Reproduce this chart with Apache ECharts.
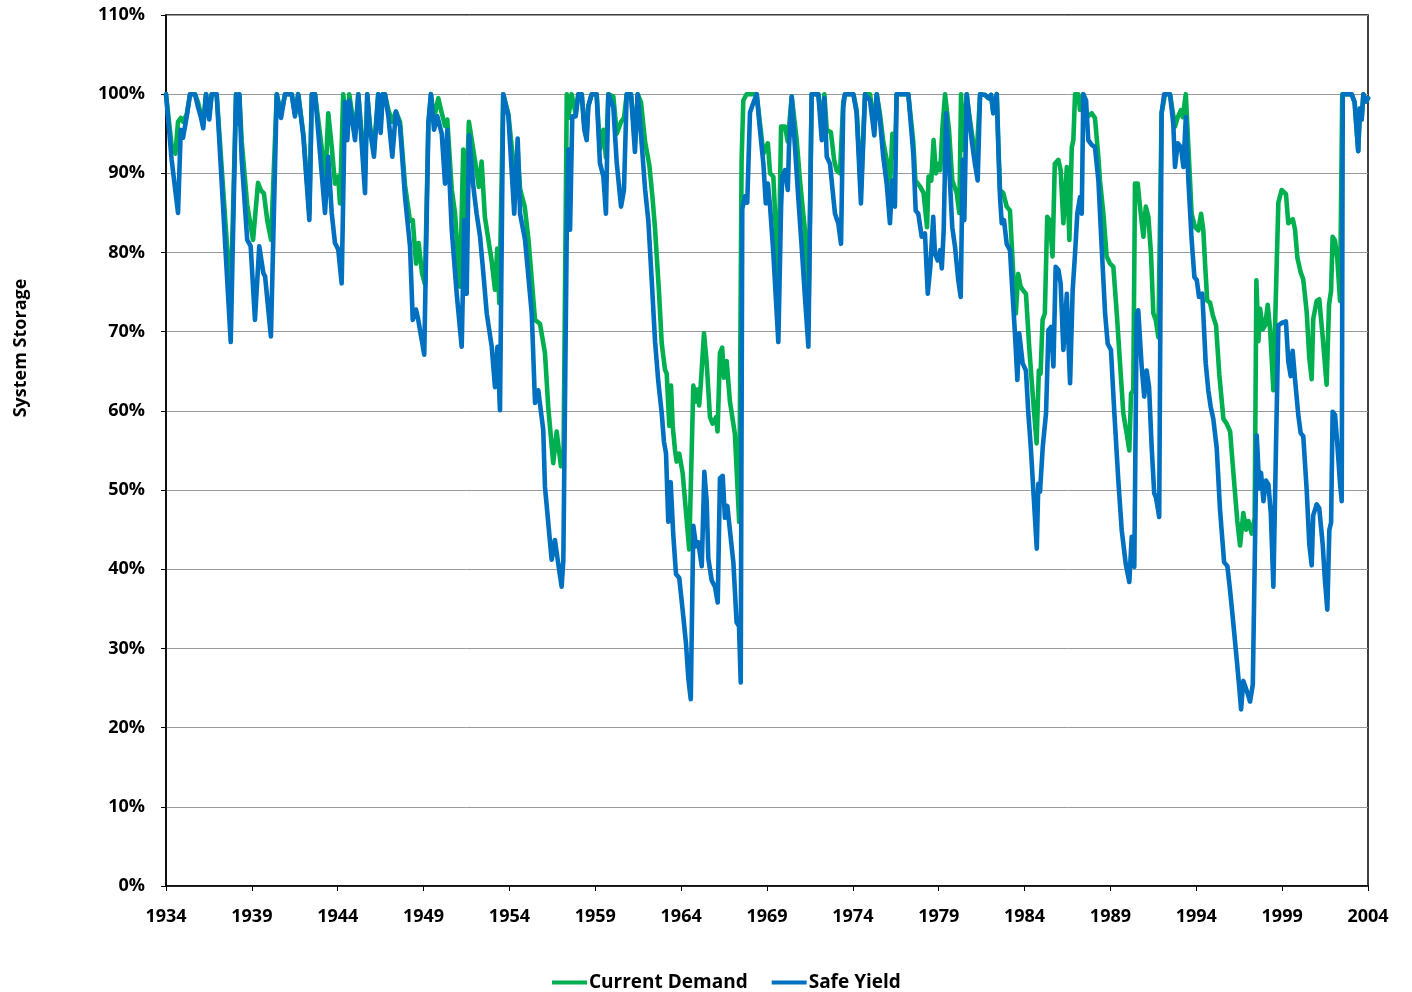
<!DOCTYPE html>
<html>
<head>
<meta charset="utf-8">
<title>System Storage</title>
<script src="https://cdn.jsdelivr.net/npm/echarts@6/dist/echarts.min.js"></script>
<style>
  html, body { margin: 0; padding: 0; background: #fff; }
  #chart { width: 1412px; height: 992px; }
</style>
</head>
<body>
<div id="chart"></div>
<script>
// [decimal year, storage %]
const currentDemand = [
  [1934.00,100],[1934.15,97],[1934.33,93.5],[1934.55,92.5],[1934.70,96.5],[1934.86,97],[1935.00,96.5],[1935.21,97.5],
  [1935.40,100],[1935.69,100],[1935.86,99],[1936.02,97.5],[1936.17,96.5],[1936.33,100],[1936.52,97.5],[1936.66,100],
  [1936.95,100],[1937.77,74],[1938.08,100],[1938.15,97],[1938.27,100],[1938.41,94],[1938.73,86],[1939.07,81.6],
  [1939.36,88.8],[1939.54,87.8],[1939.70,87.5],[1939.90,84],[1940.12,81.6],[1940.45,100],[1940.70,97.5],[1940.93,100],
  [1941.32,100],[1941.51,97.5],[1941.70,100],[1942.00,95],[1942.35,85],[1942.49,100],[1942.68,100],[1943.06,93.4],
  [1943.26,88],[1943.45,97.6],[1943.65,93.4],[1943.84,88.7],[1944.03,89.6],[1944.13,86.2],[1944.32,100],[1944.56,95],
  [1944.67,100],[1945.01,95],[1945.20,100],[1945.30,100],[1945.59,90],[1945.72,100],[1945.88,96],[1946.11,93],
  [1946.36,100],[1946.50,96],[1946.62,100],[1946.75,100],[1946.95,98],[1947.18,96.5],[1947.39,97.8],[1947.63,96.5],
  [1947.92,88.5],[1948.21,84],[1948.37,84.1],[1948.56,78.6],[1948.71,81.2],[1948.91,77.4],[1949.08,76],[1949.28,96.3],
  [1949.43,100],[1949.61,97],[1949.86,99.5],[1950.06,97.6],[1950.25,96],[1950.38,96.8],[1950.64,88],[1950.83,85],
  [1951.12,75.7],[1951.31,93],[1951.45,84.5],[1951.64,96.5],[1951.99,91.7],[1952.22,88.3],[1952.38,91.5],[1952.57,84.5],
  [1952.96,79],[1953.16,75.3],[1953.29,80.5],[1953.41,73.6],[1953.64,100],[1953.94,97.5],[1954.03,95.5],[1954.32,89.4],
  [1954.48,93],[1954.62,88],[1954.89,85.8],[1955.11,81.6],[1955.49,71.5],[1955.78,71],[1956.07,67.3],[1956.26,60.5],
  [1956.55,53.4],[1956.75,57.4],[1957.00,53],[1957.15,54],[1957.34,100],[1957.43,97],[1957.62,100],[1957.86,97.5],
  [1958.01,100],[1958.21,100],[1958.36,96],[1958.50,95],[1958.59,98.5],[1958.79,100],[1959.08,100],[1959.27,93],
  [1959.47,95.5],[1959.62,92],[1959.76,100],[1960.05,99.7],[1960.25,95],[1960.50,96.5],[1960.67,97],[1960.83,100],
  [1961.08,100],[1961.31,94],[1961.47,100],[1961.66,99],[1961.90,94],[1962.15,91],[1962.33,87],[1962.48,83],
  [1962.71,75],[1962.87,68.5],[1963.06,65.2],[1963.16,64.7],[1963.31,58.1],[1963.41,63.2],[1963.51,58.1],[1963.64,55.1],
  [1963.74,53.6],[1963.89,54.6],[1964.09,52.1],[1964.47,42.5],[1964.71,63.2],[1964.86,61.2],[1964.94,62.7],[1965.05,60.7],
  [1965.14,63.2],[1965.33,69.8],[1965.48,66.3],[1965.68,59.2],[1965.83,58.4],[1966.03,59.2],[1966.12,57.4],[1966.26,67.3],
  [1966.39,68],[1966.49,64.2],[1966.65,66.3],[1966.84,61.2],[1967.13,57.1],[1967.38,46],[1967.52,91.6],[1967.62,99.2],
  [1967.81,100],[1968.40,100],[1968.79,92.5],[1969.05,93.8],[1969.18,90],[1969.37,89.6],[1969.66,76],[1969.82,95.9],
  [1970.05,95.9],[1970.21,94],[1970.44,99.7],[1970.73,94.2],[1970.92,89.1],[1971.21,82.8],[1971.41,71],[1971.60,100],
  [1971.99,100],[1972.19,96],[1972.34,100],[1972.48,95.5],[1972.72,95.2],[1972.91,91.7],[1973.05,90.4],[1973.25,90],
  [1973.44,99],[1973.54,100],[1974.03,100],[1974.22,98],[1974.47,88],[1974.71,100],[1975.00,100],[1975.25,96],
  [1975.39,100],[1975.58,97.5],[1975.77,94],[1975.97,91.7],[1976.16,88],[1976.30,95],[1976.45,92],[1976.55,100],
  [1977.23,100],[1977.52,94],[1977.64,89.1],[1977.93,88.3],[1978.12,87.5],[1978.32,83.2],[1978.41,89.6],[1978.57,89.1],
  [1978.70,94.2],[1978.84,90],[1978.96,91.2],[1979.09,90.4],[1979.22,95.9],[1979.37,100],[1979.60,95.5],[1979.79,89.1],
  [1980.05,87.5],[1980.20,85],[1980.30,100],[1980.42,93],[1980.63,100],[1980.76,97.6],[1981.05,93.3],[1981.20,92],
  [1981.41,100],[1981.70,99.9],[1981.89,99.5],[1982.05,99.9],[1982.18,97.6],[1982.38,100],[1982.47,94],[1982.57,87.9],
  [1982.76,87.5],[1982.96,85.8],[1983.15,85.3],[1983.34,77.3],[1983.49,72.3],[1983.63,77.3],[1983.77,75.7],[1983.92,75.2],
  [1984.08,74.8],[1984.27,68.1],[1984.41,63.9],[1984.56,59.7],[1984.70,55.9],[1984.83,65.1],[1984.93,64.7],[1985.05,71.5],
  [1985.18,72.3],[1985.32,84.5],[1985.47,84.1],[1985.63,79.5],[1985.76,91.2],[1985.97,91.7],[1986.10,90.4],[1986.26,83.7],
  [1986.46,90.8],[1986.61,81.6],[1986.75,93.3],[1986.84,94.2],[1986.94,100],[1987.13,100],[1987.23,98],[1987.42,100],
  [1987.62,97.1],[1987.91,97.6],[1988.10,97],[1988.30,92],[1988.39,89.1],[1988.59,84.9],[1988.78,79.5],[1988.98,78.6],
  [1989.17,78.2],[1989.37,72.3],[1989.56,66],[1989.75,59.7],[1989.95,57.1],[1990.10,55],[1990.20,62.2],[1990.33,62.6],
  [1990.43,88.7],[1990.59,88.7],[1990.72,85.8],[1990.92,82],[1991.06,85.8],[1991.21,84.5],[1991.36,79.9],[1991.50,72.3],
  [1991.64,71.5],[1991.79,69.3],[1991.98,97.6],[1992.18,100],[1992.47,100],[1992.76,95.9],[1992.92,97.1],[1993.11,98],
  [1993.21,97.1],[1993.39,100],[1993.54,93.3],[1993.73,84.9],[1993.93,83.2],[1994.12,82.8],[1994.28,84.9],[1994.41,82.8],
  [1994.51,78.6],[1994.64,73.9],[1994.80,73.7],[1994.96,72.1],[1995.15,70.8],[1995.34,64.6],[1995.58,59],[1995.77,58.4],
  [1995.97,57.4],[1996.16,52.2],[1996.39,46.1],[1996.55,43],[1996.74,47.1],[1996.90,45],[1997.03,46.1],[1997.23,44.5],
  [1997.40,46.5],[1997.50,76.5],[1997.62,68.8],[1997.72,72.9],[1997.87,70.3],[1998.01,70.8],[1998.16,73.4],[1998.30,70.3],
  [1998.49,62.6],[1998.64,75],[1998.78,86.3],[1998.97,87.9],[1999.22,87.4],[1999.36,83.7],[1999.46,83.8],[1999.62,84.2],
  [1999.75,82.9],[1999.89,79.3],[2000.08,77.5],[2000.23,76.6],[2000.43,72.5],[2000.58,66.7],[2000.72,64],[2000.81,71.6],
  [2001.01,73.9],[2001.16,74.1],[2001.36,69.4],[2001.59,63.3],[2001.73,73.4],[2001.85,75.2],[2001.94,82],[2002.08,81.5],
  [2002.21,79.3],[2002.37,73.9],[2002.50,100],[2003.05,100],[2003.22,99],[2003.43,92.8],[2003.53,98.2],[2003.63,96.8],
  [2003.73,100],[2003.89,99.1],[2004.00,99.5]
];

const safeYield = [
  [1934.00,100],[1934.33,91.7],[1934.70,85],[1934.86,95.5],[1934.99,94.5],[1935.21,97.2],[1935.40,100],[1935.69,100],
  [1935.86,98.4],[1936.02,97.2],[1936.17,95.7],[1936.33,100],[1936.52,96.8],[1936.66,100],[1936.95,100],[1937.77,68.7],
  [1938.08,100],[1938.15,96.3],[1938.27,100],[1938.41,91.7],[1938.73,81.6],[1938.93,80.8],[1939.18,71.5],[1939.43,80.8],
  [1939.67,77.4],[1939.77,77],[1940.11,69.4],[1940.45,100],[1940.70,97],[1940.93,100],[1941.32,100],[1941.51,97.2],
  [1941.70,100],[1942.00,94.6],[1942.35,84.1],[1942.49,100],[1942.68,100],[1943.26,85],[1943.45,92.1],[1943.65,85],
  [1943.84,81.2],[1944.03,80.4],[1944.23,76.1],[1944.42,99],[1944.56,94.2],[1944.67,99.2],[1945.01,94.2],[1945.20,100],
  [1945.30,100],[1945.59,87.5],[1945.72,100],[1945.88,95.5],[1946.11,92.1],[1946.36,100],[1946.50,95.1],[1946.62,100],
  [1946.75,100],[1946.95,97.2],[1947.18,92.1],[1947.39,97.8],[1947.63,95.9],[1947.92,87],[1948.21,80.8],[1948.37,71.5],
  [1948.56,72.8],[1948.69,71.5],[1949.04,67.1],[1949.28,96.3],[1949.43,100],[1949.61,95.5],[1949.80,97.2],[1950.06,95],
  [1950.25,88.7],[1950.38,95.5],[1950.64,82.9],[1950.93,74.8],[1951.22,68.1],[1951.37,84.1],[1951.51,74.8],[1951.65,94.8],
  [1951.90,88.3],[1952.09,84.9],[1952.29,82],[1952.48,77.4],[1952.68,72.3],[1952.97,68.1],[1953.16,63],[1953.30,68.1],
  [1953.45,60.1],[1953.64,100],[1953.94,97.2],[1954.28,84.9],[1954.48,94.4],[1954.62,84.9],[1954.91,81.6],[1955.30,72.3],
  [1955.49,61],[1955.68,62.6],[1955.97,57.6],[1956.07,50.4],[1956.46,41.2],[1956.65,43.7],[1956.81,41.2],[1957.04,37.8],
  [1957.14,41.2],[1957.34,82.9],[1957.43,93],[1957.53,82.9],[1957.66,97.2],[1957.86,97.2],[1958.01,100],[1958.21,100],
  [1958.36,95.5],[1958.50,94.2],[1958.59,98.4],[1958.79,100],[1959.08,100],[1959.27,91.3],[1959.47,89.6],[1959.62,84.9],
  [1959.76,100],[1960.05,98.4],[1960.25,91.3],[1960.50,85.8],[1960.67,87.9],[1960.83,100],[1961.08,100],[1961.31,92.7],
  [1961.47,100],[1961.66,95],[1961.90,88],[1962.09,84],[1962.29,76.4],[1962.48,68.8],[1962.67,63.7],[1962.87,59.7],
  [1963.00,56.1],[1963.12,54.6],[1963.25,46],[1963.39,51],[1963.54,44.4],[1963.70,39.4],[1963.89,38.9],[1964.09,34.8],
  [1964.28,30.7],[1964.42,26.2],[1964.56,23.6],[1964.71,45.5],[1964.87,42.9],[1965.00,43.4],[1965.20,40.4],[1965.35,52.3],
  [1965.49,48.5],[1965.58,41.4],[1965.78,38.6],[1965.97,37.8],[1966.13,35.8],[1966.26,51.5],[1966.42,51.8],[1966.55,46.5],
  [1966.69,48],[1967.04,40.9],[1967.23,33.3],[1967.37,32.8],[1967.47,25.7],[1967.56,85.5],[1967.72,87.1],[1967.85,86.3],
  [1968.01,97.7],[1968.17,98.7],[1968.40,100],[1968.59,95.5],[1968.79,91.2],[1968.93,86.2],[1969.05,88.7],[1969.18,85.8],
  [1969.37,79.9],[1969.51,74.4],[1969.66,68.7],[1969.82,85.8],[1969.89,89.6],[1970.05,90.4],[1970.21,87.9],[1970.28,93.3],
  [1970.44,99.7],[1970.63,93.3],[1970.82,87],[1971.02,80.7],[1971.21,74.4],[1971.41,68.1],[1971.60,100],[1971.99,100],
  [1972.19,94.2],[1972.34,99.5],[1972.48,92.1],[1972.67,91.2],[1972.80,88.3],[1972.96,84.9],[1973.15,83.7],[1973.31,81.1],
  [1973.44,98.4],[1973.54,100],[1974.03,100],[1974.22,97.6],[1974.47,86.2],[1974.71,100],[1975.00,99.2],[1975.25,94.8],
  [1975.39,100],[1975.58,96.7],[1975.77,92.1],[1975.97,88.7],[1976.16,83.7],[1976.30,89.1],[1976.45,85.8],[1976.55,100],
  [1977.23,100],[1977.52,92.5],[1977.66,85.3],[1977.81,84.9],[1978.01,82],[1978.20,82.4],[1978.36,74.8],[1978.51,78.2],
  [1978.68,84.5],[1978.78,79.9],[1978.94,79],[1979.08,80.3],[1979.18,78],[1979.29,82.8],[1979.43,97.6],[1979.60,91.2],
  [1979.79,83.2],[1979.95,80.7],[1980.14,76.5],[1980.28,74.4],[1980.40,91.7],[1980.49,84.1],[1980.63,100],[1980.92,94.2],
  [1981.11,91.2],[1981.27,89.1],[1981.41,100],[1981.70,99.9],[1981.89,99.5],[1982.05,99.9],[1982.18,97.6],[1982.38,100],
  [1982.47,93.3],[1982.57,87],[1982.67,83.7],[1982.80,84.1],[1982.96,81.1],[1983.15,80.3],[1983.31,74.4],[1983.44,69.8],
  [1983.58,63.9],[1983.69,69.8],[1983.89,66],[1984.08,65.1],[1984.22,59.7],[1984.36,55.5],[1984.51,50],[1984.71,42.6],
  [1984.80,50.8],[1984.90,49.8],[1985.06,55.5],[1985.25,59.7],[1985.39,70.2],[1985.54,70.6],[1985.68,65.6],[1985.81,78.2],
  [1985.97,77.8],[1986.10,76.1],[1986.26,67.7],[1986.46,74.8],[1986.55,68.9],[1986.65,63.5],[1986.80,75.2],[1986.94,79.9],
  [1987.07,84.9],[1987.23,87],[1987.33,84.9],[1987.42,100],[1987.58,99.2],[1987.71,94.2],[1987.91,93.6],[1988.10,93.3],
  [1988.30,89.1],[1988.49,80.7],[1988.69,72.3],[1988.84,68.5],[1989.03,67.7],[1989.23,59.7],[1989.46,51.2],[1989.66,44.9],
  [1989.89,40.7],[1990.10,38.4],[1990.24,44.1],[1990.39,40.3],[1990.53,72.3],[1990.62,72.7],[1990.82,65.6],[1990.97,61.8],
  [1991.11,65.1],[1991.25,63],[1991.40,55.5],[1991.55,49.6],[1991.65,49.1],[1991.84,46.6],[1991.98,97.6],[1992.13,100],
  [1992.47,100],[1992.66,96.3],[1992.76,90.8],[1992.92,93.8],[1993.11,93.3],[1993.25,90.8],[1993.39,97.1],[1993.54,89.1],
  [1993.73,81.6],[1993.89,76.9],[1994.03,76.5],[1994.16,74.4],[1994.35,74.8],[1994.55,66],[1994.70,62.6],[1994.84,60.5],
  [1994.99,59],[1995.19,55.3],[1995.38,47.6],[1995.62,40.9],[1995.81,40.4],[1995.97,37.3],[1996.16,33.1],[1996.36,28.5],
  [1996.51,24.9],[1996.61,22.3],[1996.74,25.9],[1996.98,24.4],[1997.13,23.3],[1997.29,25.4],[1997.40,25.5],[1997.52,56.9],
  [1997.67,50.2],[1997.77,52.2],[1997.91,48.6],[1998.06,51.2],[1998.20,50.7],[1998.34,47.1],[1998.49,37.8],[1998.64,55.3],
  [1998.78,70.8],[1998.97,71.1],[1999.22,71.3],[1999.36,66.2],[1999.50,64.4],[1999.61,67.6],[1999.75,64],[1999.94,59.5],
  [2000.08,57.2],[2000.23,56.8],[2000.43,50],[2000.58,43.2],[2000.72,40.5],[2000.81,46.8],[2001.01,48.2],[2001.16,47.7],
  [2001.36,43.2],[2001.49,38.7],[2001.63,34.9],[2001.75,45],[2001.85,45.9],[2001.94,59.9],[2002.08,59.5],[2002.21,55.9],
  [2002.37,50.9],[2002.47,48.6],[2002.53,100],[2003.05,100],[2003.22,99],[2003.43,92.8],[2003.53,98.2],[2003.63,96.8],
  [2003.73,100],[2003.89,99.1],[2004.00,99.5]
];

const seriesNames = ["Current Demand", "Safe Yield"];
const seriesColors = ["#00B050", "#0070C0"];

const font = "'Open Sans', Lato, sans-serif";

const chart = echarts.init(document.getElementById("chart"));

const lineSeries = (name, data, color) => ({
  name: name,
  type: "line",
  data: data,
  symbol: "none",
  smooth: false,
  lineStyle: { color: color, width: 4.6, join: "round", cap: "round" },
  itemStyle: { color: color },
});

const option = {
  animation: false,
  backgroundColor: "#fff",
  grid: {
    left: 166,
    right: 44,
    top: 15,
    bottom: 106,
    show: true,
    borderColor: "#000",
    borderWidth: 1.5,
  },
  legend: {
    data: seriesNames,
    left: 547,
    top: 968,
    icon: "rect",
    itemWidth: 35,
    itemHeight: 4,
    itemGap: 24,
    textStyle: { fontFamily: font, fontWeight: "bold", fontSize: 19, color: "#000", padding: [0, 0, 0, -3] },
  },
  xAxis: {
    type: "value",
    min: 1934,
    max: 2004,
    interval: 5,
    axisLine: { lineStyle: { color: "#000", width: 1.5 } },
    axisTick: { show: true, length: 5, lineStyle: { color: "#000" } },
    splitLine: { show: false },
    axisLabel: {
      margin: 22,
      color: "#000",
      fontFamily: font,
      fontWeight: "bold",
      fontSize: 18,
      formatter: v => String(v),
    },
  },
  yAxis: {
    type: "value",
    min: 0,
    max: 110,
    interval: 10,
    axisLine: { show: true, lineStyle: { color: "#000", width: 1.5 } },
    axisTick: { show: true, length: 5, lineStyle: { color: "#000" } },
    splitLine: { lineStyle: { color: "#9a9a9a", width: 1 } },
    axisLabel: {
      margin: 21,
      color: "#000",
      fontFamily: font,
      fontWeight: "bold",
      fontSize: 18,
      formatter: "{value}%",
    },
  },
  graphic: [
    {
      type: "text",
      x: 21,
      y: 348,
      rotation: Math.PI / 2,
      style: {
        text: "System Storage",
        fill: "#000",
        font: "bold 18px " + font,
        textAlign: "center",
        textVerticalAlign: "middle",
      },
    },
  ],
  series: [
    lineSeries(seriesNames[0], currentDemand, seriesColors[0]),
    lineSeries(seriesNames[1], safeYield, seriesColors[1]),
  ],
};

chart.setOption(option);
</script>
</body>
</html>
